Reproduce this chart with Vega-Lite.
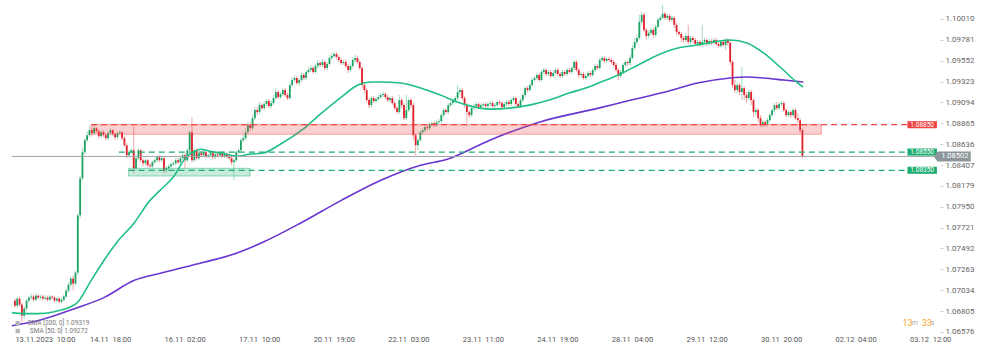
{
"$schema":"https://vega.github.io/schema/vega-lite/v6.json",
"width":940,"height":336,"padding":0,"background":"white",
"config":{"view":{"stroke":null},"font":"Roboto","axis":{"labelOverlap":false,"labelFlush":false,"labelBound":false}},
"datasets":{
"candles":[
{"t":0,"o":1.0692,"h":1.06942,"l":1.06843,"c":1.06865},
{"t":1,"o":1.06865,"h":1.06964,"l":1.06843,"c":1.06942},
{"t":2,"o":1.06942,"h":1.06964,"l":1.06854,"c":1.06876},
{"t":3,"o":1.06876,"h":1.06898,"l":1.06678,"c":1.06755},
{"t":4,"o":1.06755,"h":1.06854,"l":1.06722,"c":1.06832},
{"t":5,"o":1.06832,"h":1.06942,"l":1.0681,"c":1.0692},
{"t":6,"o":1.0692,"h":1.06975,"l":1.06898,"c":1.06953},
{"t":7,"o":1.06953,"h":1.06997,"l":1.06931,"c":1.06964},
{"t":8,"o":1.06964,"h":1.06986,"l":1.06909,"c":1.06931},
{"t":9,"o":1.06931,"h":1.06997,"l":1.06909,"c":1.06975},
{"t":10,"o":1.06975,"h":1.06986,"l":1.06931,"c":1.06953},
{"t":11,"o":1.06953,"h":1.06986,"l":1.06931,"c":1.06964},
{"t":12,"o":1.06964,"h":1.06986,"l":1.0692,"c":1.06942},
{"t":13,"o":1.06942,"h":1.06975,"l":1.0692,"c":1.06953},
{"t":14,"o":1.06953,"h":1.06975,"l":1.06909,"c":1.06931},
{"t":15,"o":1.06931,"h":1.06986,"l":1.06909,"c":1.06964},
{"t":16,"o":1.06964,"h":1.06975,"l":1.06931,"c":1.06953},
{"t":17,"o":1.06953,"h":1.06975,"l":1.06898,"c":1.0692},
{"t":18,"o":1.0692,"h":1.06964,"l":1.06898,"c":1.06942},
{"t":19,"o":1.06942,"h":1.06964,"l":1.06887,"c":1.06909},
{"t":20,"o":1.06909,"h":1.06953,"l":1.06887,"c":1.06931},
{"t":21,"o":1.06931,"h":1.06986,"l":1.06909,"c":1.06964},
{"t":22,"o":1.06964,"h":1.07052,"l":1.06953,"c":1.0703},
{"t":23,"o":1.0703,"h":1.07118,"l":1.07008,"c":1.07096},
{"t":24,"o":1.07096,"h":1.07184,"l":1.07074,"c":1.07162},
{"t":25,"o":1.07162,"h":1.07195,"l":1.0703,"c":1.07107},
{"t":26,"o":1.07107,"h":1.0725,"l":1.07085,"c":1.07228},
{"t":27,"o":1.07228,"h":1.07877,"l":1.07206,"c":1.07855},
{"t":28,"o":1.07855,"h":1.08295,"l":1.07822,"c":1.08262},
{"t":29,"o":1.08262,"h":1.08592,"l":1.0824,"c":1.08548},
{"t":30,"o":1.08548,"h":1.08702,"l":1.08526,"c":1.0868},
{"t":31,"o":1.0868,"h":1.08779,"l":1.08658,"c":1.08735},
{"t":32,"o":1.08735,"h":1.08834,"l":1.08713,"c":1.0879},
{"t":33,"o":1.0879,"h":1.08812,"l":1.08724,"c":1.08757},
{"t":34,"o":1.08757,"h":1.08845,"l":1.08735,"c":1.08812},
{"t":35,"o":1.08812,"h":1.08823,"l":1.08757,"c":1.08779},
{"t":36,"o":1.08779,"h":1.08801,"l":1.08702,"c":1.08724},
{"t":37,"o":1.08724,"h":1.0879,"l":1.08702,"c":1.08768},
{"t":38,"o":1.08768,"h":1.0879,"l":1.08713,"c":1.08735},
{"t":39,"o":1.08735,"h":1.08757,"l":1.0868,"c":1.08702},
{"t":40,"o":1.08702,"h":1.08779,"l":1.0868,"c":1.08757},
{"t":41,"o":1.08757,"h":1.08812,"l":1.08735,"c":1.0879},
{"t":42,"o":1.0879,"h":1.08801,"l":1.08724,"c":1.08746},
{"t":43,"o":1.08746,"h":1.08768,"l":1.08691,"c":1.08713},
{"t":44,"o":1.08713,"h":1.08779,"l":1.08691,"c":1.08757},
{"t":45,"o":1.08757,"h":1.0879,"l":1.08735,"c":1.08768},
{"t":46,"o":1.08768,"h":1.08779,"l":1.0868,"c":1.08702},
{"t":47,"o":1.08702,"h":1.08724,"l":1.08603,"c":1.08625},
{"t":48,"o":1.08625,"h":1.08647,"l":1.08482,"c":1.08515},
{"t":49,"o":1.08515,"h":1.0857,"l":1.08493,"c":1.08548},
{"t":50,"o":1.08548,"h":1.08592,"l":1.08526,"c":1.0857},
{"t":51,"o":1.0857,"h":1.08834,"l":1.08317,"c":1.08372},
{"t":52,"o":1.08372,"h":1.08504,"l":1.0835,"c":1.08482},
{"t":53,"o":1.08482,"h":1.08592,"l":1.0846,"c":1.0857},
{"t":54,"o":1.0857,"h":1.08581,"l":1.08438,"c":1.0846},
{"t":55,"o":1.0846,"h":1.08482,"l":1.08394,"c":1.08427},
{"t":56,"o":1.08427,"h":1.08482,"l":1.08405,"c":1.0846},
{"t":57,"o":1.0846,"h":1.08471,"l":1.08383,"c":1.08405},
{"t":58,"o":1.08405,"h":1.08427,"l":1.08372,"c":1.08394},
{"t":59,"o":1.08394,"h":1.0846,"l":1.08372,"c":1.08438},
{"t":60,"o":1.08438,"h":1.08482,"l":1.08416,"c":1.0846},
{"t":61,"o":1.0846,"h":1.08515,"l":1.08438,"c":1.08493},
{"t":62,"o":1.08493,"h":1.08515,"l":1.08438,"c":1.0846},
{"t":63,"o":1.0846,"h":1.08504,"l":1.08438,"c":1.08482},
{"t":64,"o":1.08482,"h":1.08504,"l":1.08317,"c":1.0835},
{"t":65,"o":1.0835,"h":1.08394,"l":1.08328,"c":1.08372},
{"t":66,"o":1.08372,"h":1.08416,"l":1.0835,"c":1.08394},
{"t":67,"o":1.08394,"h":1.08438,"l":1.08372,"c":1.08416},
{"t":68,"o":1.08416,"h":1.08449,"l":1.08394,"c":1.08427},
{"t":69,"o":1.08427,"h":1.08482,"l":1.08405,"c":1.0846},
{"t":70,"o":1.0846,"h":1.08482,"l":1.08416,"c":1.08438},
{"t":71,"o":1.08438,"h":1.08504,"l":1.08416,"c":1.08482},
{"t":72,"o":1.08482,"h":1.08537,"l":1.0846,"c":1.08515},
{"t":73,"o":1.08515,"h":1.08537,"l":1.08372,"c":1.0846},
{"t":74,"o":1.0846,"h":1.08592,"l":1.08438,"c":1.0857},
{"t":75,"o":1.0857,"h":1.0879,"l":1.08548,"c":1.08768},
{"t":76,"o":1.08768,"h":1.08933,"l":1.08438,"c":1.0846},
{"t":77,"o":1.0846,"h":1.08592,"l":1.08438,"c":1.0857},
{"t":78,"o":1.0857,"h":1.08592,"l":1.0846,"c":1.08482},
{"t":79,"o":1.08482,"h":1.08559,"l":1.0846,"c":1.08537},
{"t":80,"o":1.08537,"h":1.08559,"l":1.08493,"c":1.08515},
{"t":81,"o":1.08515,"h":1.0857,"l":1.08493,"c":1.08548},
{"t":82,"o":1.08548,"h":1.0857,"l":1.08482,"c":1.08504},
{"t":83,"o":1.08504,"h":1.08537,"l":1.08482,"c":1.08515},
{"t":84,"o":1.08515,"h":1.08559,"l":1.08493,"c":1.08537},
{"t":85,"o":1.08537,"h":1.08559,"l":1.08471,"c":1.08493},
{"t":86,"o":1.08493,"h":1.08548,"l":1.08471,"c":1.08526},
{"t":87,"o":1.08526,"h":1.08548,"l":1.08493,"c":1.08515},
{"t":88,"o":1.08515,"h":1.08559,"l":1.08493,"c":1.08537},
{"t":89,"o":1.08537,"h":1.08559,"l":1.08482,"c":1.08504},
{"t":90,"o":1.08504,"h":1.08548,"l":1.08482,"c":1.08526},
{"t":91,"o":1.08526,"h":1.08548,"l":1.08482,"c":1.08504},
{"t":92,"o":1.08504,"h":1.08526,"l":1.0846,"c":1.08482},
{"t":93,"o":1.08482,"h":1.08504,"l":1.08405,"c":1.08438},
{"t":94,"o":1.08438,"h":1.08482,"l":1.0824,"c":1.0846},
{"t":95,"o":1.0846,"h":1.0857,"l":1.08438,"c":1.08548},
{"t":96,"o":1.08548,"h":1.08592,"l":1.08526,"c":1.0857},
{"t":97,"o":1.0857,"h":1.08702,"l":1.08548,"c":1.0868},
{"t":98,"o":1.0868,"h":1.08735,"l":1.08658,"c":1.08702},
{"t":99,"o":1.08702,"h":1.08812,"l":1.0868,"c":1.08768},
{"t":100,"o":1.08768,"h":1.08878,"l":1.08746,"c":1.08845},
{"t":101,"o":1.08845,"h":1.08878,"l":1.08779,"c":1.08812},
{"t":102,"o":1.08812,"h":1.08955,"l":1.0879,"c":1.08922},
{"t":103,"o":1.08922,"h":1.09043,"l":1.089,"c":1.0901},
{"t":104,"o":1.0901,"h":1.09043,"l":1.08955,"c":1.08988},
{"t":105,"o":1.08988,"h":1.09098,"l":1.08966,"c":1.09065},
{"t":106,"o":1.09065,"h":1.09087,"l":1.0901,"c":1.09032},
{"t":107,"o":1.09032,"h":1.09109,"l":1.0901,"c":1.09076},
{"t":108,"o":1.09076,"h":1.09131,"l":1.09054,"c":1.09109},
{"t":109,"o":1.09109,"h":1.09131,"l":1.09032,"c":1.09054},
{"t":110,"o":1.09054,"h":1.0912,"l":1.09032,"c":1.09087},
{"t":111,"o":1.09087,"h":1.09175,"l":1.09065,"c":1.09142},
{"t":112,"o":1.09142,"h":1.09252,"l":1.0912,"c":1.09208},
{"t":113,"o":1.09208,"h":1.0923,"l":1.09131,"c":1.09153},
{"t":114,"o":1.09153,"h":1.09208,"l":1.09131,"c":1.09186},
{"t":115,"o":1.09186,"h":1.09252,"l":1.09164,"c":1.0923},
{"t":116,"o":1.0923,"h":1.09252,"l":1.09153,"c":1.09175},
{"t":117,"o":1.09175,"h":1.09197,"l":1.0912,"c":1.09142},
{"t":118,"o":1.09142,"h":1.09318,"l":1.0912,"c":1.09285},
{"t":119,"o":1.09285,"h":1.09373,"l":1.09263,"c":1.0934},
{"t":120,"o":1.0934,"h":1.09395,"l":1.09318,"c":1.09362},
{"t":121,"o":1.09362,"h":1.09384,"l":1.09285,"c":1.09307},
{"t":122,"o":1.09307,"h":1.09362,"l":1.09274,"c":1.0934},
{"t":123,"o":1.0934,"h":1.09428,"l":1.09318,"c":1.09395},
{"t":124,"o":1.09395,"h":1.09417,"l":1.0934,"c":1.09362},
{"t":125,"o":1.09362,"h":1.0945,"l":1.0934,"c":1.09428},
{"t":126,"o":1.09428,"h":1.09483,"l":1.09406,"c":1.0945},
{"t":127,"o":1.0945,"h":1.09505,"l":1.09428,"c":1.09472},
{"t":128,"o":1.09472,"h":1.09494,"l":1.09406,"c":1.09428},
{"t":129,"o":1.09428,"h":1.09516,"l":1.09406,"c":1.09494},
{"t":130,"o":1.09494,"h":1.0956,"l":1.09472,"c":1.09527},
{"t":131,"o":1.09527,"h":1.09549,"l":1.09483,"c":1.09505},
{"t":132,"o":1.09505,"h":1.09571,"l":1.09483,"c":1.09538},
{"t":133,"o":1.09538,"h":1.0956,"l":1.0945,"c":1.09472},
{"t":134,"o":1.09472,"h":1.09538,"l":1.0945,"c":1.09516},
{"t":135,"o":1.09516,"h":1.09615,"l":1.09494,"c":1.09582},
{"t":136,"o":1.09582,"h":1.09637,"l":1.0956,"c":1.09604},
{"t":137,"o":1.09604,"h":1.09648,"l":1.09582,"c":1.09626},
{"t":138,"o":1.09626,"h":1.09648,"l":1.09571,"c":1.09593},
{"t":139,"o":1.09593,"h":1.09615,"l":1.09538,"c":1.0956},
{"t":140,"o":1.0956,"h":1.09582,"l":1.09505,"c":1.09527},
{"t":141,"o":1.09527,"h":1.0956,"l":1.09505,"c":1.09538},
{"t":142,"o":1.09538,"h":1.0956,"l":1.09472,"c":1.09494},
{"t":143,"o":1.09494,"h":1.09516,"l":1.09417,"c":1.0945},
{"t":144,"o":1.0945,"h":1.09516,"l":1.09428,"c":1.09494},
{"t":145,"o":1.09494,"h":1.09593,"l":1.09472,"c":1.0956},
{"t":146,"o":1.0956,"h":1.09615,"l":1.09538,"c":1.09582},
{"t":147,"o":1.09582,"h":1.09604,"l":1.09516,"c":1.09538},
{"t":148,"o":1.09538,"h":1.0956,"l":1.0945,"c":1.09472},
{"t":149,"o":1.09472,"h":1.09494,"l":1.09252,"c":1.09285},
{"t":150,"o":1.09285,"h":1.09307,"l":1.09197,"c":1.0923},
{"t":151,"o":1.0923,"h":1.09252,"l":1.09087,"c":1.0912},
{"t":152,"o":1.0912,"h":1.09142,"l":1.09032,"c":1.09065},
{"t":153,"o":1.09065,"h":1.09164,"l":1.09043,"c":1.09142},
{"t":154,"o":1.09142,"h":1.09164,"l":1.09087,"c":1.09109},
{"t":155,"o":1.09109,"h":1.09153,"l":1.09087,"c":1.09131},
{"t":156,"o":1.09131,"h":1.09175,"l":1.09109,"c":1.09153},
{"t":157,"o":1.09153,"h":1.09197,"l":1.09131,"c":1.09175},
{"t":158,"o":1.09175,"h":1.09208,"l":1.09153,"c":1.09186},
{"t":159,"o":1.09186,"h":1.09208,"l":1.09131,"c":1.09153},
{"t":160,"o":1.09153,"h":1.09175,"l":1.09098,"c":1.0912},
{"t":161,"o":1.0912,"h":1.09164,"l":1.09098,"c":1.09142},
{"t":162,"o":1.09142,"h":1.09164,"l":1.09065,"c":1.09087},
{"t":163,"o":1.09087,"h":1.09109,"l":1.0901,"c":1.09032},
{"t":164,"o":1.09032,"h":1.09054,"l":1.08966,"c":1.08988},
{"t":165,"o":1.08988,"h":1.09175,"l":1.08966,"c":1.0912},
{"t":166,"o":1.0912,"h":1.09142,"l":1.09032,"c":1.09065},
{"t":167,"o":1.09065,"h":1.09087,"l":1.089,"c":1.08922},
{"t":168,"o":1.08922,"h":1.09175,"l":1.089,"c":1.0901},
{"t":169,"o":1.0901,"h":1.09142,"l":1.08988,"c":1.0912},
{"t":170,"o":1.0912,"h":1.09142,"l":1.09032,"c":1.09065},
{"t":171,"o":1.09065,"h":1.09087,"l":1.0868,"c":1.08735},
{"t":172,"o":1.08735,"h":1.08757,"l":1.08515,"c":1.08625},
{"t":173,"o":1.08625,"h":1.08702,"l":1.0857,"c":1.0868},
{"t":174,"o":1.0868,"h":1.0879,"l":1.08658,"c":1.08768},
{"t":175,"o":1.08768,"h":1.08812,"l":1.08746,"c":1.0879},
{"t":176,"o":1.0879,"h":1.08845,"l":1.08768,"c":1.08823},
{"t":177,"o":1.08823,"h":1.08845,"l":1.0879,"c":1.08812},
{"t":178,"o":1.08812,"h":1.08878,"l":1.0879,"c":1.08856},
{"t":179,"o":1.08856,"h":1.08889,"l":1.08834,"c":1.08867},
{"t":180,"o":1.08867,"h":1.08889,"l":1.08823,"c":1.08845},
{"t":181,"o":1.08845,"h":1.089,"l":1.08823,"c":1.08878},
{"t":182,"o":1.08878,"h":1.08911,"l":1.08856,"c":1.08889},
{"t":183,"o":1.08889,"h":1.08977,"l":1.08867,"c":1.08955},
{"t":184,"o":1.08955,"h":1.09032,"l":1.08933,"c":1.0901},
{"t":185,"o":1.0901,"h":1.09032,"l":1.08966,"c":1.08988},
{"t":186,"o":1.08988,"h":1.09087,"l":1.08966,"c":1.09065},
{"t":187,"o":1.09065,"h":1.09109,"l":1.09043,"c":1.09087},
{"t":188,"o":1.09087,"h":1.09131,"l":1.09065,"c":1.09109},
{"t":189,"o":1.09109,"h":1.09164,"l":1.09087,"c":1.09142},
{"t":190,"o":1.09142,"h":1.09285,"l":1.0912,"c":1.09208},
{"t":191,"o":1.09208,"h":1.09252,"l":1.09175,"c":1.0923},
{"t":192,"o":1.0923,"h":1.09252,"l":1.0912,"c":1.09142},
{"t":193,"o":1.09142,"h":1.09164,"l":1.09032,"c":1.09065},
{"t":194,"o":1.09065,"h":1.09087,"l":1.08867,"c":1.08988},
{"t":195,"o":1.08988,"h":1.0901,"l":1.08922,"c":1.08955},
{"t":196,"o":1.08955,"h":1.09054,"l":1.08933,"c":1.09032},
{"t":197,"o":1.09032,"h":1.09076,"l":1.0901,"c":1.09054},
{"t":198,"o":1.09054,"h":1.09098,"l":1.09032,"c":1.09076},
{"t":199,"o":1.09076,"h":1.09098,"l":1.09021,"c":1.09043},
{"t":200,"o":1.09043,"h":1.09087,"l":1.09021,"c":1.09065},
{"t":201,"o":1.09065,"h":1.09098,"l":1.09043,"c":1.09076},
{"t":202,"o":1.09076,"h":1.09098,"l":1.09032,"c":1.09054},
{"t":203,"o":1.09054,"h":1.09098,"l":1.09032,"c":1.09076},
{"t":204,"o":1.09076,"h":1.09109,"l":1.09054,"c":1.09087},
{"t":205,"o":1.09087,"h":1.09109,"l":1.09032,"c":1.09054},
{"t":206,"o":1.09054,"h":1.09087,"l":1.09032,"c":1.09065},
{"t":207,"o":1.09065,"h":1.0912,"l":1.09043,"c":1.09098},
{"t":208,"o":1.09098,"h":1.0912,"l":1.09065,"c":1.09087},
{"t":209,"o":1.09087,"h":1.09109,"l":1.09021,"c":1.09043},
{"t":210,"o":1.09043,"h":1.09098,"l":1.09021,"c":1.09076},
{"t":211,"o":1.09076,"h":1.0912,"l":1.09054,"c":1.09098},
{"t":212,"o":1.09098,"h":1.0912,"l":1.09054,"c":1.09076},
{"t":213,"o":1.09076,"h":1.09142,"l":1.09054,"c":1.0912},
{"t":214,"o":1.0912,"h":1.09164,"l":1.09098,"c":1.09142},
{"t":215,"o":1.09142,"h":1.09164,"l":1.09054,"c":1.09076},
{"t":216,"o":1.09076,"h":1.09098,"l":1.09032,"c":1.09054},
{"t":217,"o":1.09054,"h":1.09142,"l":1.09032,"c":1.0912},
{"t":218,"o":1.0912,"h":1.09197,"l":1.09098,"c":1.09175},
{"t":219,"o":1.09175,"h":1.09274,"l":1.09153,"c":1.09252},
{"t":220,"o":1.09252,"h":1.09274,"l":1.09208,"c":1.0923},
{"t":221,"o":1.0923,"h":1.09307,"l":1.09208,"c":1.09285},
{"t":222,"o":1.09285,"h":1.09362,"l":1.09263,"c":1.0934},
{"t":223,"o":1.0934,"h":1.09384,"l":1.09318,"c":1.09362},
{"t":224,"o":1.09362,"h":1.09417,"l":1.0934,"c":1.09395},
{"t":225,"o":1.09395,"h":1.09417,"l":1.09318,"c":1.0934},
{"t":226,"o":1.0934,"h":1.0945,"l":1.09318,"c":1.09428},
{"t":227,"o":1.09428,"h":1.09472,"l":1.09406,"c":1.0945},
{"t":228,"o":1.0945,"h":1.09472,"l":1.09384,"c":1.09406},
{"t":229,"o":1.09406,"h":1.0945,"l":1.09384,"c":1.09428},
{"t":230,"o":1.09428,"h":1.0945,"l":1.09362,"c":1.09384},
{"t":231,"o":1.09384,"h":1.09439,"l":1.09362,"c":1.09417},
{"t":232,"o":1.09417,"h":1.09472,"l":1.09395,"c":1.0945},
{"t":233,"o":1.0945,"h":1.09472,"l":1.09384,"c":1.09406},
{"t":234,"o":1.09406,"h":1.09428,"l":1.09362,"c":1.09384},
{"t":235,"o":1.09384,"h":1.0945,"l":1.09362,"c":1.09428},
{"t":236,"o":1.09428,"h":1.0945,"l":1.09384,"c":1.09406},
{"t":237,"o":1.09406,"h":1.09472,"l":1.09384,"c":1.0945},
{"t":238,"o":1.0945,"h":1.09472,"l":1.09406,"c":1.09428},
{"t":239,"o":1.09428,"h":1.09494,"l":1.09406,"c":1.09472},
{"t":240,"o":1.09472,"h":1.0956,"l":1.0945,"c":1.09538},
{"t":241,"o":1.09538,"h":1.0956,"l":1.09428,"c":1.0945},
{"t":242,"o":1.0945,"h":1.09472,"l":1.09362,"c":1.09395},
{"t":243,"o":1.09395,"h":1.09428,"l":1.09373,"c":1.09406},
{"t":244,"o":1.09406,"h":1.09428,"l":1.0934,"c":1.09362},
{"t":245,"o":1.09362,"h":1.09406,"l":1.0934,"c":1.09384},
{"t":246,"o":1.09384,"h":1.09439,"l":1.09362,"c":1.09417},
{"t":247,"o":1.09417,"h":1.09439,"l":1.09373,"c":1.09395},
{"t":248,"o":1.09395,"h":1.09472,"l":1.09373,"c":1.0945},
{"t":249,"o":1.0945,"h":1.09516,"l":1.09428,"c":1.09494},
{"t":250,"o":1.09494,"h":1.09516,"l":1.0945,"c":1.09472},
{"t":251,"o":1.09472,"h":1.09582,"l":1.0945,"c":1.0956},
{"t":252,"o":1.0956,"h":1.09604,"l":1.09538,"c":1.09582},
{"t":253,"o":1.09582,"h":1.09604,"l":1.09527,"c":1.09549},
{"t":254,"o":1.09549,"h":1.09593,"l":1.09527,"c":1.09571},
{"t":255,"o":1.09571,"h":1.09593,"l":1.09538,"c":1.0956},
{"t":256,"o":1.0956,"h":1.09582,"l":1.09516,"c":1.09538},
{"t":257,"o":1.09538,"h":1.0956,"l":1.09483,"c":1.09505},
{"t":258,"o":1.09505,"h":1.09527,"l":1.09428,"c":1.0945},
{"t":259,"o":1.0945,"h":1.09472,"l":1.0934,"c":1.09384},
{"t":260,"o":1.09384,"h":1.0945,"l":1.09362,"c":1.09428},
{"t":261,"o":1.09428,"h":1.09527,"l":1.09406,"c":1.09505},
{"t":262,"o":1.09505,"h":1.0956,"l":1.09483,"c":1.09538},
{"t":263,"o":1.09538,"h":1.0956,"l":1.09494,"c":1.09527},
{"t":264,"o":1.09527,"h":1.09615,"l":1.09505,"c":1.09582},
{"t":265,"o":1.09582,"h":1.09725,"l":1.0956,"c":1.09692},
{"t":266,"o":1.09692,"h":1.09802,"l":1.0967,"c":1.09758},
{"t":267,"o":1.09758,"h":1.09835,"l":1.09725,"c":1.09802},
{"t":268,"o":1.09802,"h":1.10055,"l":1.0978,"c":1.09978},
{"t":269,"o":1.09978,"h":1.10077,"l":1.09945,"c":1.10055},
{"t":270,"o":1.10055,"h":1.10077,"l":1.09868,"c":1.0989},
{"t":271,"o":1.0989,"h":1.09912,"l":1.0978,"c":1.09824},
{"t":272,"o":1.09824,"h":1.0989,"l":1.09802,"c":1.09857},
{"t":273,"o":1.09857,"h":1.09912,"l":1.09835,"c":1.0989},
{"t":274,"o":1.0989,"h":1.09912,"l":1.09802,"c":1.09835},
{"t":275,"o":1.09835,"h":1.09945,"l":1.09813,"c":1.09923},
{"t":276,"o":1.09923,"h":1.10022,"l":1.09912,"c":1.1},
{"t":277,"o":1.1,"h":1.10044,"l":1.09978,"c":1.10022},
{"t":278,"o":1.10022,"h":1.10165,"l":1.1,"c":1.10066},
{"t":279,"o":1.10066,"h":1.10088,"l":1.1,"c":1.10022},
{"t":280,"o":1.10022,"h":1.10066,"l":1.1,"c":1.10044},
{"t":281,"o":1.10044,"h":1.10066,"l":1.09978,"c":1.1},
{"t":282,"o":1.1,"h":1.10044,"l":1.09978,"c":1.10022},
{"t":283,"o":1.10022,"h":1.10044,"l":1.09912,"c":1.09945},
{"t":284,"o":1.09945,"h":1.09967,"l":1.09835,"c":1.09868},
{"t":285,"o":1.09868,"h":1.0989,"l":1.09824,"c":1.09846},
{"t":286,"o":1.09846,"h":1.09868,"l":1.09758,"c":1.09802},
{"t":287,"o":1.09802,"h":1.09824,"l":1.09747,"c":1.0978},
{"t":288,"o":1.0978,"h":1.09857,"l":1.09758,"c":1.09824},
{"t":289,"o":1.09824,"h":1.09945,"l":1.09736,"c":1.09758},
{"t":290,"o":1.09758,"h":1.09824,"l":1.09725,"c":1.09802},
{"t":291,"o":1.09802,"h":1.09824,"l":1.09747,"c":1.0978},
{"t":292,"o":1.0978,"h":1.09802,"l":1.09714,"c":1.09736},
{"t":293,"o":1.09736,"h":1.0978,"l":1.09714,"c":1.09758},
{"t":294,"o":1.09758,"h":1.0978,"l":1.09703,"c":1.09725},
{"t":295,"o":1.09725,"h":1.09945,"l":1.09703,"c":1.09758},
{"t":296,"o":1.09758,"h":1.09802,"l":1.09736,"c":1.0978},
{"t":297,"o":1.0978,"h":1.09802,"l":1.09714,"c":1.09736},
{"t":298,"o":1.09736,"h":1.09791,"l":1.09714,"c":1.09769},
{"t":299,"o":1.09769,"h":1.09791,"l":1.09725,"c":1.09747},
{"t":300,"o":1.09747,"h":1.09802,"l":1.09725,"c":1.0978},
{"t":301,"o":1.0978,"h":1.09802,"l":1.09714,"c":1.09736},
{"t":302,"o":1.09736,"h":1.09758,"l":1.09692,"c":1.09714},
{"t":303,"o":1.09714,"h":1.0978,"l":1.09692,"c":1.09758},
{"t":304,"o":1.09758,"h":1.0978,"l":1.09703,"c":1.09725},
{"t":305,"o":1.09725,"h":1.09802,"l":1.0967,"c":1.0978},
{"t":306,"o":1.0978,"h":1.09802,"l":1.09714,"c":1.09747},
{"t":307,"o":1.09747,"h":1.0978,"l":1.09505,"c":1.09538},
{"t":308,"o":1.09538,"h":1.0956,"l":1.09252,"c":1.09285},
{"t":309,"o":1.09285,"h":1.0934,"l":1.09197,"c":1.0923},
{"t":310,"o":1.0923,"h":1.09318,"l":1.09197,"c":1.09285},
{"t":311,"o":1.09285,"h":1.09307,"l":1.09175,"c":1.09208},
{"t":312,"o":1.09208,"h":1.09483,"l":1.0912,"c":1.09252},
{"t":313,"o":1.09252,"h":1.09274,"l":1.0912,"c":1.09175},
{"t":314,"o":1.09175,"h":1.09208,"l":1.09087,"c":1.09142},
{"t":315,"o":1.09142,"h":1.0923,"l":1.0912,"c":1.09208},
{"t":316,"o":1.09208,"h":1.0923,"l":1.09065,"c":1.0912},
{"t":317,"o":1.0912,"h":1.09142,"l":1.08933,"c":1.08988},
{"t":318,"o":1.08988,"h":1.09032,"l":1.08955,"c":1.0901},
{"t":319,"o":1.0901,"h":1.09032,"l":1.08878,"c":1.08922},
{"t":320,"o":1.08922,"h":1.08955,"l":1.08823,"c":1.08845},
{"t":321,"o":1.08845,"h":1.089,"l":1.08823,"c":1.08878},
{"t":322,"o":1.08878,"h":1.089,"l":1.08834,"c":1.08856},
{"t":323,"o":1.08856,"h":1.08922,"l":1.08834,"c":1.089},
{"t":324,"o":1.089,"h":1.08977,"l":1.08878,"c":1.08955},
{"t":325,"o":1.08955,"h":1.09032,"l":1.08933,"c":1.0901},
{"t":326,"o":1.0901,"h":1.09087,"l":1.08988,"c":1.09065},
{"t":327,"o":1.09065,"h":1.09098,"l":1.0901,"c":1.09032},
{"t":328,"o":1.09032,"h":1.09098,"l":1.0901,"c":1.09076},
{"t":329,"o":1.09076,"h":1.09109,"l":1.09054,"c":1.09087},
{"t":330,"o":1.09087,"h":1.09109,"l":1.08988,"c":1.0901},
{"t":331,"o":1.0901,"h":1.09032,"l":1.08933,"c":1.08955},
{"t":332,"o":1.08955,"h":1.0901,"l":1.08933,"c":1.08988},
{"t":333,"o":1.08988,"h":1.0901,"l":1.08922,"c":1.08955},
{"t":334,"o":1.08955,"h":1.09032,"l":1.08933,"c":1.0901},
{"t":335,"o":1.0901,"h":1.09032,"l":1.089,"c":1.08922},
{"t":336,"o":1.08922,"h":1.08977,"l":1.08867,"c":1.089},
{"t":337,"o":1.089,"h":1.08922,"l":1.08757,"c":1.0879},
{"t":338,"o":1.0879,"h":1.08812,"l":1.08482,"c":1.08502}
],
"sma50":[
{"t":-1.3,"p":1.06788},{"t":4.2,"p":1.06777},{"t":9.8,"p":1.06777},{"t":17,"p":1.06799},{"t":26.3,"p":1.06887},{"t":32.7,"p":1.0714},{"t":38.2,"p":1.0736},{"t":43.7,"p":1.07558},{"t":51,"p":1.07767},{"t":58,"p":1.0802},{"t":62.3,"p":1.0813},{"t":67.9,"p":1.08273},{"t":73.5,"p":1.08493},{"t":76.4,"p":1.08548},{"t":79.8,"p":1.08581},{"t":83.5,"p":1.08559},{"t":89.2,"p":1.08537},{"t":95.5,"p":1.08504},{"t":100.5,"p":1.08526},{"t":106.2,"p":1.08537},{"t":114.6,"p":1.08647},{"t":123.1,"p":1.0879},{"t":131.6,"p":1.08977},{"t":140.1,"p":1.09153},{"t":147.2,"p":1.09285},{"t":152.9,"p":1.09318},{"t":157.1,"p":1.09318},{"t":165.6,"p":1.09307},{"t":174.1,"p":1.09252},{"t":182.6,"p":1.09175},{"t":191.1,"p":1.09087},{"t":199.6,"p":1.09032},{"t":203.8,"p":1.09021},{"t":212.3,"p":1.09032},{"t":220.8,"p":1.09065},{"t":229.3,"p":1.0912},{"t":237.8,"p":1.09197},{"t":246.3,"p":1.09263},{"t":250.5,"p":1.09307},{"t":259,"p":1.09395},{"t":267.5,"p":1.09505},{"t":276,"p":1.09615},{"t":284.5,"p":1.09692},{"t":293,"p":1.09725},{"t":300.1,"p":1.09758},{"t":307.1,"p":1.0978},{"t":314.2,"p":1.09747},{"t":321.3,"p":1.09637},{"t":328.4,"p":1.09483},{"t":335.5,"p":1.09318},{"t":338.3,"p":1.09263}
],
"sma200":[
{"t":-1.3,"p":1.06645},{"t":9.8,"p":1.067},{"t":26.8,"p":1.06843},{"t":38.2,"p":1.06953},{"t":51,"p":1.0714},{"t":63.7,"p":1.07228},{"t":80.7,"p":1.07338},{"t":93.4,"p":1.07426},{"t":106.2,"p":1.07558},{"t":123.1,"p":1.07778},{"t":140.1,"p":1.0802},{"t":157.1,"p":1.0824},{"t":174.1,"p":1.08405},{"t":185.6,"p":1.08471},{"t":203.8,"p":1.0868},{"t":225,"p":1.08878},{"t":250.5,"p":1.09032},{"t":264.5,"p":1.0912},{"t":279,"p":1.09208},{"t":293,"p":1.09307},{"t":307,"p":1.09362},{"t":314.2,"p":1.09373},{"t":321.4,"p":1.09362},{"t":330,"p":1.0934},{"t":338.4,"p":1.09318}
],
"zones":[
{"t0":32.7,"t1":346.1,"p0":1.0885,"p1":1.08745,"kind":"red"},
{"t0":48.8,"t1":100.9,"p0":1.08372,"p1":1.08287,"kind":"green"}
],
"levels":[
{"t0":32.7,"p":1.0885,"kind":"red","label":"1.08850"},
{"t0":44.6,"p":1.0855,"kind":"green","label":"1.08550"},
{"t0":48.8,"p":1.0835,"kind":"green","label":"1.08350"}
],
"current":[{"t0":-1.3,"p":1.08502,"label":"1.08502"}],
"legend":[
{"t":5.5,"p":1.06674,"label":"SMA [200, 0] 1.09319"},
{"t":6.4,"p":1.06587,"label":"SMA [50, 0] 1.09272"}
],
"timerNum":[{"t":380.9,"p":1.06674,"label":"13"},{"t":389.2,"p":1.06674,"label":"33"}],
"timerUnit":[{"t":384.9,"p":1.06674,"label":"m"},{"t":393.1,"p":1.06674,"label":"s"}]
},
"layer":[
{"data":{"name":"candles"},"mark":{"type":"rule","strokeWidth":1,"opacity":0.4},
 "encoding":{
  "x":{"field":"t","type":"quantitative","title":null,"scale":{"domain":[-4.25,394.9],"nice":false,"zero":false},
   "axis":{"values":[0,32,64,96,128,160,192,224,256,288,320,352,384],"tickCount":30,
    "labelExpr":"['13.11.2023 \u00a010:00','14.11 \u00a018:00','16.11 \u00a002:00','17.11 \u00a010:00','20.11 \u00a019:00','22.11 \u00a003:00','23.11 \u00a011:00','24.11 \u00a019:00','28.11 \u00a004:00','29.11 \u00a012:00','30.11 \u00a020:00','02.12 \u00a004:00','03.12 \u00a012:00'][round(datum.value/32)]",
    "labelAlign":"left","labelBaseline":"middle","labelPadding":3,"ticks":false,"domain":false,"grid":false,
    "labelColor":"#555","labelFontSize":7.5,"title":null,"labelOverlap":false,"labelBound":false,"labelFlush":false}},
  "y":{"field":"h","type":"quantitative","title":null,"scale":{"domain":[1.06532,1.10218],"nice":false,"zero":false},
   "axis":{"orient":"right","values":[1.06576,1.06805,1.07034,1.07263,1.07492,1.07721,1.0795,1.08179,1.08407,1.08636,1.08865,1.09094,1.09323,1.09552,1.09781,1.1001],"tickCount":30,
    "format":".5f","domain":false,"grid":false,"tickSize":3,"tickColor":"#d0d0d0","labelPadding":2,"labelColor":"#666","labelFontSize":8,"title":null,"labelOverlap":false,"labelBound":false,"labelFlush":false}},
  "y2":{"field":"l"},
  "color":{"condition":{"test":"datum.c < datum.o","value":"#e0202c"},"value":"#1ca364"}
 }},
{"data":{"name":"candles"},"mark":{"type":"bar","size":1.8},
 "encoding":{
  "x":{"field":"t","type":"quantitative","title":null,"scale":{"domain":[-4.25,394.9],"nice":false,"zero":false}},
  "y":{"field":"o","type":"quantitative","title":null,"scale":{"domain":[1.06532,1.10218],"nice":false,"zero":false}},
  "y2":{"field":"c"},
  "color":{"condition":{"test":"datum.c < datum.o","value":"#e0202c"},"value":"#1ca364"}
 }},
{"data":{"name":"sma200"},"mark":{"type":"line","color":"#6a35d0","strokeWidth":1.6,"interpolate":"monotone"},
 "encoding":{
  "x":{"field":"t","type":"quantitative","title":null,"scale":{"domain":[-4.25,394.9],"nice":false,"zero":false}},
  "y":{"field":"p","type":"quantitative","title":null,"scale":{"domain":[1.06532,1.10218],"nice":false,"zero":false}}
 }},
{"data":{"name":"sma50"},"mark":{"type":"line","color":"#1fbf85","strokeWidth":1.6,"interpolate":"monotone"},
 "encoding":{
  "x":{"field":"t","type":"quantitative","title":null,"scale":{"domain":[-4.25,394.9],"nice":false,"zero":false}},
  "y":{"field":"p","type":"quantitative","title":null,"scale":{"domain":[1.06532,1.10218],"nice":false,"zero":false}}
 }},
{"data":{"name":"zones"},"mark":{"type":"rect","fillOpacity":0.25,"strokeOpacity":0.45,"strokeWidth":1},
 "encoding":{
  "x":{"field":"t0","type":"quantitative","title":null,"scale":{"domain":[-4.25,394.9],"nice":false,"zero":false}},
  "x2":{"field":"t1"},
  "y":{"field":"p0","type":"quantitative","title":null,"scale":{"domain":[1.06532,1.10218],"nice":false,"zero":false}},
  "y2":{"field":"p1"},
  "color":{"field":"kind","type":"nominal","scale":{"domain":["red","green"],"range":["#ef4444","#1fae72"]},"legend":null},
  "stroke":{"field":"kind","type":"nominal","scale":{"domain":["red","green"],"range":["#ef4444","#1fae72"]},"legend":null}
 }},
{"data":{"name":"levels"},"mark":{"type":"rule","strokeWidth":1.2,"strokeDash":[6,4]},
 "encoding":{
  "x":{"field":"t0","type":"quantitative","title":null,"scale":{"domain":[-4.25,394.9],"nice":false,"zero":false}},
  "x2":{"datum":383.4},
  "y":{"field":"p","type":"quantitative","title":null,"scale":{"domain":[1.06532,1.10218],"nice":false,"zero":false}},
  "color":{"field":"kind","type":"nominal","scale":{"domain":["red","green"],"range":["#ef4444","#1fae72"]},"legend":null}
 }},
{"data":{"name":"current"},"mark":{"type":"rule","strokeWidth":1,"color":"#a0a5aa"},
 "encoding":{
  "x":{"field":"t0","type":"quantitative","title":null,"scale":{"domain":[-4.25,394.9],"nice":false,"zero":false}},
  "x2":{"datum":394.9},
  "y":{"field":"p","type":"quantitative","title":null,"scale":{"domain":[1.06532,1.10218],"nice":false,"zero":false}}
 }},
{"data":{"name":"levels"},"mark":{"type":"point","filled":true,"opacity":1,"size":870,"shape":"M-1,-0.24H1V0.24H-1Z"},
 "encoding":{
  "x":{"datum":389.4,"type":"quantitative","title":null,"scale":{"domain":[-4.25,394.9],"nice":false,"zero":false}},
  "y":{"field":"p","type":"quantitative","title":null,"scale":{"domain":[1.06532,1.10218],"nice":false,"zero":false}},
  "color":{"field":"kind","type":"nominal","scale":{"domain":["red","green"],"range":["#ef4444","#1fae72"]},"legend":null}
 }},
{"data":{"name":"current"},"mark":{"type":"point","filled":true,"opacity":1,"size":1369,"color":"#8d969b","shape":"M-1,0L-0.8,-0.27H1V0.27H-0.8Z"},
 "encoding":{
  "x":{"datum":402.3,"type":"quantitative","title":null,"scale":{"domain":[-4.25,394.9],"nice":false,"zero":false}},
  "y":{"field":"p","type":"quantitative","title":null,"scale":{"domain":[1.06532,1.10218],"nice":false,"zero":false}}
 }},
{"data":{"name":"levels"},"mark":{"type":"text","color":"white","fontSize":6.5,"align":"center","baseline":"middle"},
 "encoding":{
  "x":{"datum":389.4,"type":"quantitative","title":null,"scale":{"domain":[-4.25,394.9],"nice":false,"zero":false}},
  "y":{"field":"p","type":"quantitative","title":null,"scale":{"domain":[1.06532,1.10218],"nice":false,"zero":false}},
  "text":{"field":"label"}
 }},
{"data":{"name":"current"},"mark":{"type":"text","color":"white","fontSize":7.5,"align":"center","baseline":"middle"},
 "encoding":{
  "x":{"datum":403.4,"type":"quantitative","title":null,"scale":{"domain":[-4.25,394.9],"nice":false,"zero":false}},
  "y":{"field":"p","type":"quantitative","title":null,"scale":{"domain":[1.06532,1.10218],"nice":false,"zero":false}},
  "text":{"field":"label"}
 }},
{"data":{"name":"legend"},"mark":{"type":"text","color":"#777","fontSize":6.5,"align":"left","baseline":"middle"},
 "encoding":{
  "x":{"field":"t","type":"quantitative","title":null,"scale":{"domain":[-4.25,394.9],"nice":false,"zero":false}},
  "y":{"field":"p","type":"quantitative","title":null,"scale":{"domain":[1.06532,1.10218],"nice":false,"zero":false}},
  "text":{"field":"label"}
 }},
{"data":{"name":"legend"},"mark":{"type":"point","shape":"square","filled":true,"size":18,"color":"#b5b5b5","opacity":1},
 "encoding":{
  "x":{"datum":1.2,"type":"quantitative","title":null,"scale":{"domain":[-4.25,394.9],"nice":false,"zero":false}},
  "y":{"field":"p","type":"quantitative","title":null,"scale":{"domain":[1.06532,1.10218],"nice":false,"zero":false}}
 }},
{"data":{"name":"timerNum"},"mark":{"type":"text","color":"#f5a623","fontSize":9,"align":"left","baseline":"middle"},
 "encoding":{
  "x":{"field":"t","type":"quantitative","title":null,"scale":{"domain":[-4.25,394.9],"nice":false,"zero":false}},
  "y":{"field":"p","type":"quantitative","title":null,"scale":{"domain":[1.06532,1.10218],"nice":false,"zero":false}},
  "text":{"field":"label"}
 }},
{"data":{"name":"timerUnit"},"mark":{"type":"text","color":"#aaa","fontSize":7,"align":"left","baseline":"middle"},
 "encoding":{
  "x":{"field":"t","type":"quantitative","title":null,"scale":{"domain":[-4.25,394.9],"nice":false,"zero":false}},
  "y":{"field":"p","type":"quantitative","title":null,"scale":{"domain":[1.06532,1.10218],"nice":false,"zero":false}},
  "text":{"field":"label"}
 }}
]
}
